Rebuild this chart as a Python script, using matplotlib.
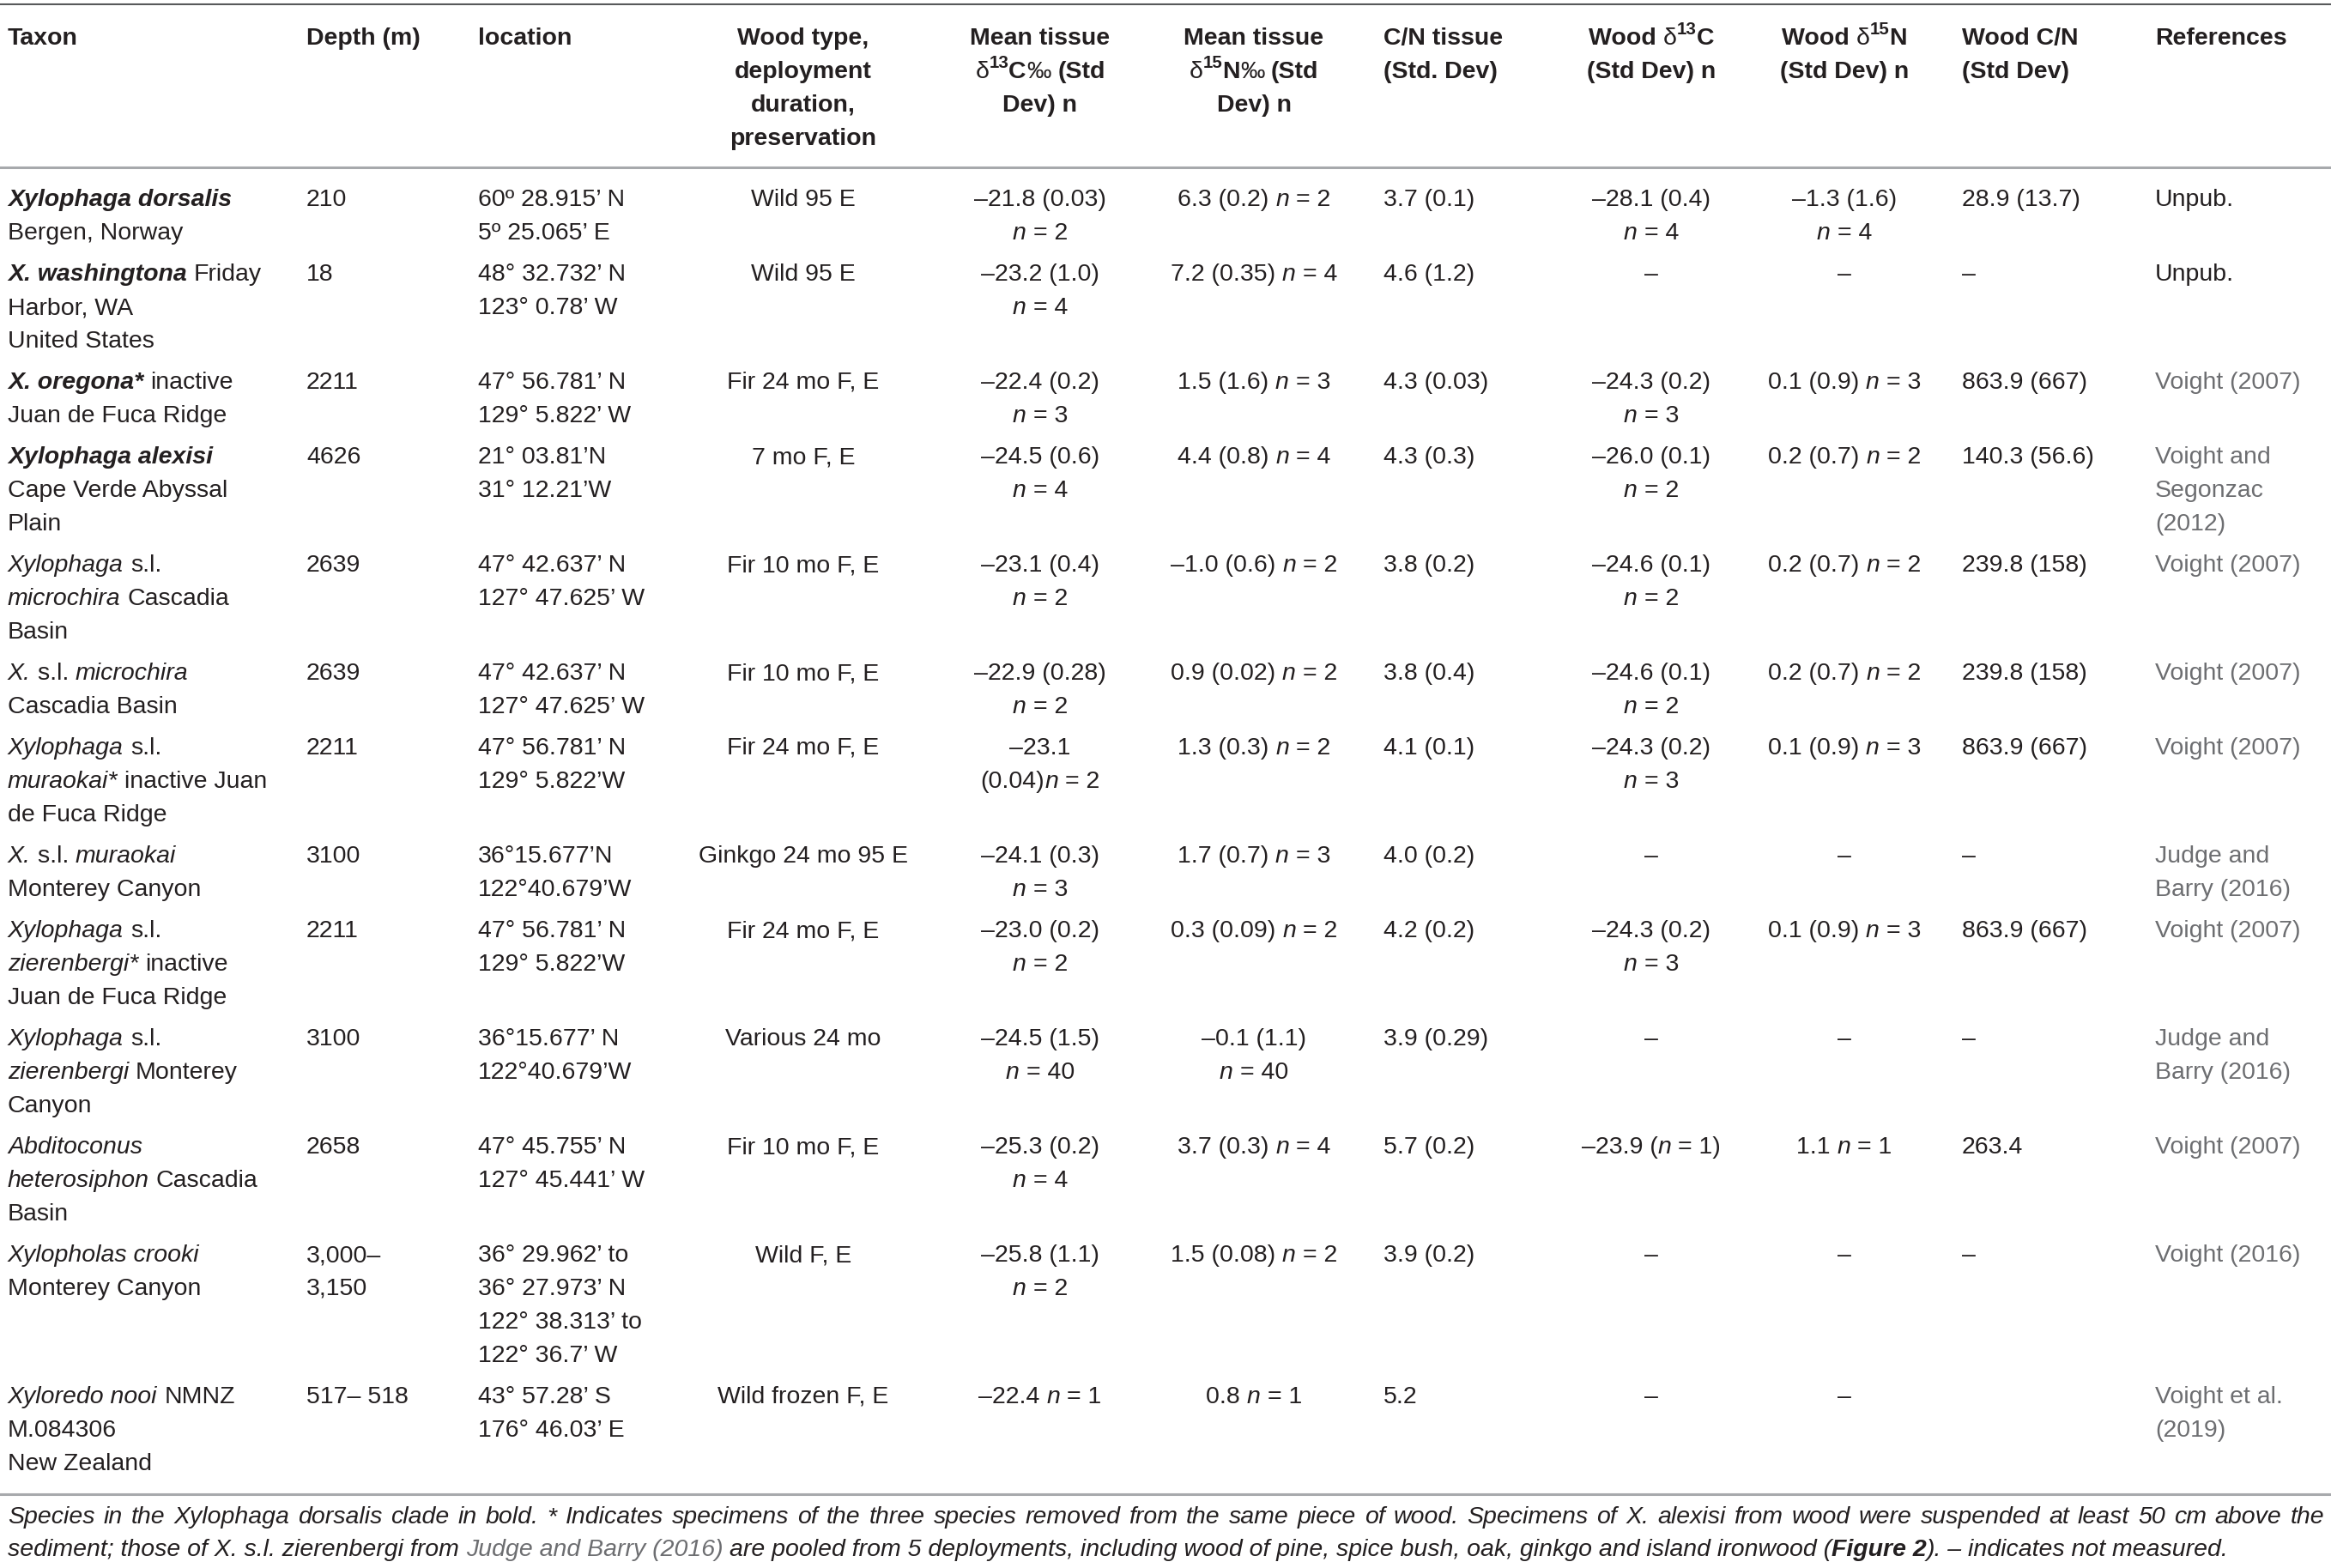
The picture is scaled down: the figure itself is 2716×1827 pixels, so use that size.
import re
import matplotlib
matplotlib.use('Agg')
import matplotlib.pyplot as plt

FONT = 'Liberation Sans'
FS = 20.5
INK = '#231f20'
GRAY = '#6d6e71'

# ---- table content (markup: <i>, <b>, <bi>, <s> superscript, <r> regular, <g> grey) ----
headers = [
    ['Taxon'],
    ['Depth (m)'],
    ['location'],
    ['Wood type,', 'deployment', 'duration,', 'preservation'],
    ['Mean tissue', '<r>δ</r><s>13</s>C<r>‰</r> (Std', 'Dev) n'],
    ['Mean tissue', '<r>δ</r><s>15</s>N<r>‰</r> (Std', 'Dev) n'],
    ['C/N tissue', '(Std. Dev)'],
    ['Wood <r>δ</r><s>13</s>C', '(Std Dev) n'],
    ['Wood <r>δ</r><s>15</s>N', '(Std Dev) n'],
    ['Wood C/N', '(Std Dev)'],
    ['References'],
]

taxon = [
    ['<bi>Xylophaga dorsalis</bi>', 'Bergen, Norway'],
    ['<bi>X. washingtona</bi> Friday', 'Harbor, WA', 'United States'],
    ['<bi>X. oregona*</bi> inactive', 'Juan de Fuca Ridge'],
    ['<bi>Xylophaga alexisi</bi>', 'Cape Verde Abyssal', 'Plain'],
    ['<i>Xylophaga</i> s.l.', '<i>microchira</i> Cascadia', 'Basin'],
    ['<i>X.</i> s.l. <i>microchira</i>', 'Cascadia Basin'],
    ['<i>Xylophaga</i> s.l.', '<i>muraokai*</i> inactive Juan', 'de Fuca Ridge'],
    ['<i>X.</i> s.l. <i>muraokai</i>', 'Monterey Canyon'],
    ['<i>Xylophaga</i> s.l.', '<i>zierenbergi*</i> inactive', 'Juan de Fuca Ridge'],
    ['<i>Xylophaga</i> s.l.', '<i>zierenbergi</i> Monterey', 'Canyon'],
    ['<i>Abditoconus</i>', '<i>heterosiphon</i> Cascadia', 'Basin'],
    ['<i>Xylopholas crooki</i>', 'Monterey Canyon'],
    ['<i>Xyloredo nooi</i> NMNZ', 'M.084306', 'New Zealand'],
]

depth = [['210'], ['18'], ['2211'], ['4626'], ['2639'], ['2639'], ['2211'],
         ['3100'], ['2211'], ['3100'], ['2658'], ['3,000–', '3,150'], ['517– 518']]

location = [
    ['60º 28.915’ N', '5º 25.065’ E'],
    ['48° 32.732’ N', '123° 0.78’ W'],
    ['47° 56.781’ N', '129° 5.822’ W'],
    ['21° 03.81’N', '31° 12.21’W'],
    ['47° 42.637’ N', '127° 47.625’ W'],
    ['47° 42.637’ N', '127° 47.625’ W'],
    ['47° 56.781’ N', '129° 5.822’W'],
    ['36°15.677’N', '122°40.679’W'],
    ['47° 56.781’ N', '129° 5.822’W'],
    ['36°15.677’ N', '122°40.679’W'],
    ['47° 45.755’ N', '127° 45.441’ W'],
    ['36° 29.962’ to', '36° 27.973’ N', '122° 38.313’ to', '122° 36.7’ W'],
    ['43° 57.28’ S', '176° 46.03’ E'],
]

wood_type = [['Wild 95 E'], ['Wild 95 E'], ['Fir 24 mo F, E'], ['7 mo F, E'],
             ['Fir 10 mo F, E'], ['Fir 10 mo F, E'], ['Fir 24 mo F, E'],
             ['Ginkgo 24 mo 95 E'], ['Fir 24 mo F, E'], ['Various 24 mo'],
             ['Fir 10 mo F, E'], ['Wild F, E'], ['Wild frozen F, E']]

tissue_d13c = [
    ['–21.8 (0.03)', '<i>n</i> = 2'],
    ['–23.2 (1.0)', '<i>n</i> = 4'],
    ['–22.4 (0.2)', '<i>n</i> = 3'],
    ['–24.5 (0.6)', '<i>n</i> = 4'],
    ['–23.1 (0.4)', '<i>n</i> = 2'],
    ['–22.9 (0.28)', '<i>n</i> = 2'],
    ['–23.1', '(0.04)<i>n</i> = 2'],
    ['–24.1 (0.3)', '<i>n</i> = 3'],
    ['–23.0 (0.2)', '<i>n</i> = 2'],
    ['–24.5 (1.5)', '<i>n</i> = 40'],
    ['–25.3 (0.2)', '<i>n</i> = 4'],
    ['–25.8 (1.1)', '<i>n</i> = 2'],
    ['–22.4 <i>n</i> = 1'],
]

tissue_d15n = [
    ['6.3 (0.2) <i>n</i> = 2'], ['7.2 (0.35) <i>n</i> = 4'], ['1.5 (1.6) <i>n</i> = 3'],
    ['4.4 (0.8) <i>n</i> = 4'], ['–1.0 (0.6) <i>n</i> = 2'], ['0.9 (0.02) <i>n</i> = 2'],
    ['1.3 (0.3) <i>n</i> = 2'], ['1.7 (0.7) <i>n</i> = 3'], ['0.3 (0.09) <i>n</i> = 2'],
    ['–0.1 (1.1)', '<i>n</i> = 40'], ['3.7 (0.3) <i>n</i> = 4'], ['1.5 (0.08) <i>n</i> = 2'],
    ['0.8 <i>n</i> = 1'],
]

tissue_cn = [['3.7 (0.1)'], ['4.6 (1.2)'], ['4.3 (0.03)'], ['4.3 (0.3)'], ['3.8 (0.2)'],
             ['3.8 (0.4)'], ['4.1 (0.1)'], ['4.0 (0.2)'], ['4.2 (0.2)'], ['3.9 (0.29)'],
             ['5.7 (0.2)'], ['3.9 (0.2)'], ['5.2']]

wood_d13c = [
    ['–28.1 (0.4)', '<i>n</i> = 4'], ['–'], ['–24.3 (0.2)', '<i>n</i> = 3'],
    ['–26.0 (0.1)', '<i>n</i> = 2'], ['–24.6 (0.1)', '<i>n</i> = 2'],
    ['–24.6 (0.1)', '<i>n</i> = 2'], ['–24.3 (0.2)', '<i>n</i> = 3'], ['–'],
    ['–24.3 (0.2)', '<i>n</i> = 3'], ['–'], ['–23.9 (<i>n</i> = 1)'], ['–'], ['–'],
]

wood_d15n = [
    ['–1.3 (1.6)', '<i>n</i> = 4'], ['–'], ['0.1 (0.9) <i>n</i> = 3'],
    ['0.2 (0.7) <i>n</i> = 2'], ['0.2 (0.7) <i>n</i> = 2'], ['0.2 (0.7) <i>n</i> = 2'],
    ['0.1 (0.9) <i>n</i> = 3'], ['–'], ['0.1 (0.9) <i>n</i> = 3'], ['–'],
    ['1.1 <i>n</i> = 1'], ['–'], ['–'],
]

wood_cn = [['28.9 (13.7)'], ['–'], ['863.9 (667)'], ['140.3 (56.6)'], ['239.8 (158)'],
           ['239.8 (158)'], ['863.9 (667)'], ['–'], ['863.9 (667)'], ['–'],
           ['263.4'], ['–'], []]

references = [
    ['Unpub.'], ['Unpub.'], ['<g>Voight (2007)</g>'],
    ['<g>Voight and</g>', '<g>Segonzac</g>', '<g>(2012)</g>'],
    ['<g>Voight (2007)</g>'], ['<g>Voight (2007)</g>'], ['<g>Voight (2007)</g>'],
    ['<g>Judge and</g>', '<g>Barry (2016)</g>'], ['<g>Voight (2007)</g>'],
    ['<g>Judge and</g>', '<g>Barry (2016)</g>'], ['<g>Voight (2007)</g>'],
    ['<g>Voight (2016)</g>'], ['<g>Voight et al.</g>', '<g>(2019)</g>'],
]

footnote_1 = ('Species in the Xylophaga dorsalis clade in bold. * Indicates specimens of the three '
              'species removed from the same piece of wood. Specimens of X. alexisi from wood were '
              'suspended at least 50 cm above the')
footnote_2 = ('sediment; those of X. s.l. zierenbergi from <g>Judge and Barry (2016)</g> are pooled '
              'from 5 deployments, including wood of pine, spice bush, oak, ginkgo and island '
              'ironwood (<b>Figure 2</b>). – indicates not measured.')

columns = [taxon, depth, location, wood_type, tissue_d13c, tissue_d15n, tissue_cn,
           wood_d13c, wood_d15n, wood_cn, references]

# ---- layout (pixels) ----
col_x = [9, 357, 557, 936, 1212, 1461, 1612, 1924, 2149, 2286, 2511]
col_ha = ['left', 'left', 'left', 'center', 'center', 'center', 'left',
          'center', 'center', 'left', 'left']
W, H = 2716, 1827
LINE = 39
ROW_PAD = 9

fig = plt.figure(figsize=(W / 100, H / 100), dpi=100)
ax = fig.add_axes([0, 0, 1, 1])
ax.set_xlim(0, W)
ax.set_ylim(H, 0)
ax.axis('off')
renderer = fig.canvas.get_renderer()

TOKEN = re.compile(r'<(bi|b|i|g|s|r)>(.*?)</\1>')
_wcache = {}


def text_width(s, weight, slant, size):
    key = (s, weight, slant, size)
    if key not in _wcache:
        kw = dict(fontfamily=FONT, fontsize=size, fontweight=weight, fontstyle=slant)
        t = ax.text(0, 0, '|' + s + '|', **kw)
        w = t.get_window_extent(renderer).width
        t.set_text('||')
        w -= t.get_window_extent(renderer).width
        t.remove()
        _wcache[key] = w
    return _wcache[key]


def parse(markup, base):
    weight, slant = base
    parts = []
    pos = 0
    for m in TOKEN.finditer(markup):
        if m.start() > pos:
            parts.append((markup[pos:m.start()], weight, slant, False, False))
        tag, txt = m.group(1), m.group(2)
        if tag == 'i':
            parts.append((txt, weight, 'italic', False, False))
        elif tag == 'b':
            parts.append((txt, 'bold', slant, False, False))
        elif tag == 'bi':
            parts.append((txt, 'bold', 'italic', False, False))
        elif tag == 'r':
            parts.append((txt, 'normal', 'normal', False, False))
        elif tag == 'g':
            parts.append((txt, weight, slant, True, False))
        elif tag == 's':
            parts.append((txt, weight, slant, False, True))
        pos = m.end()
    if pos < len(markup):
        parts.append((markup[pos:], weight, slant, False, False))
    return parts


def draw_line(x, y, markup, base=('normal', 'normal'), ha='left', color=INK, size=FS):
    parts = parse(markup, base)
    sizes = [size * 0.72 if p[4] else size for p in parts]
    widths = [text_width(p[0], p[1], p[2], s) for p, s in zip(parts, sizes)]
    total = sum(widths)
    x0 = x - total / 2 if ha == 'center' else x
    for (txt, weight, slant, grey, sup), sz, w in zip(parts, sizes, widths):
        stripped = txt.lstrip(' ')
        lead = text_width(txt[:len(txt) - len(stripped)], weight, slant, sz) if stripped != txt else 0
        yy = y - size * 0.42 * 100 / 72 if sup else y
        if stripped:
            ax.text(x0 + lead, yy, stripped, fontfamily=FONT, fontsize=sz, fontweight=weight,
                    fontstyle=slant, color=GRAY if grey else color, ha='left', va='baseline')
        x0 += w
    return total


# rules
ax.axhline(5, color='#58595b', lw=1.5)
ax.axhline(195, color='#a7a9ac', lw=2.2)
ax.axhline(1741, color='#a7a9ac', lw=2.2)

# header
for lines, x, ha in zip(headers, col_x, col_ha):
    for k, line in enumerate(lines):
        draw_line(x, 52 + k * LINE, line, base=('bold', 'normal'), ha=ha)

# body
y = 240
for r in range(len(taxon)):
    nlines = max(len(col[r]) for col in columns)
    for col, x, ha in zip(columns, col_x, col_ha):
        for k, line in enumerate(col[r]):
            draw_line(x, y + k * LINE, line, ha=ha)
    y += nlines * LINE + ROW_PAD

# footnote, first line justified to the full width
words = footnote_1.split(' ')
ww = [text_width(w, 'normal', 'italic', FS) for w in words]
gap = (2708 - 9 - sum(ww)) / (len(words) - 1)
xw = 9
for w, wd in zip(words, ww):
    ax.text(xw, 1775, w, fontfamily=FONT, fontsize=FS, fontstyle='italic', color=INK,
            ha='left', va='baseline')
    xw += wd + gap
draw_line(9, 1813, footnote_2, base=('normal', 'italic'))

fig.savefig('out.png', dpi=100)
